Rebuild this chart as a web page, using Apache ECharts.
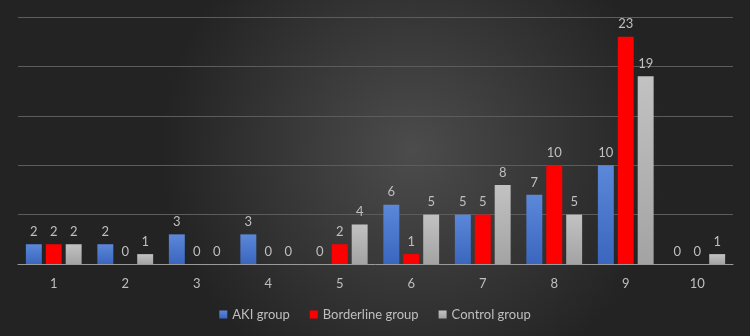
<!DOCTYPE html>
<html>
<head>
<meta charset="utf-8">
<script src="https://cdn.jsdelivr.net/npm/echarts@6/dist/echarts.min.js"></script>
<style>html,body{margin:0;padding:0;background:#2a2a2a;}#c{width:750px;height:336px;}</style>
</head>
<body>
<div id="c"></div>
<script>
var categories = ['1','2','3','4','5','6','7','8','9','10'];
var akiGroup = [2,2,3,3,0,6,5,7,10,0];
var borderlineGroup = [2,0,0,0,2,1,5,10,23,0];
var controlGroup = [2,1,0,0,4,5,8,5,19,1];
var seriesNames = ['AKI group','Borderline group','Control group'];

var chart = echarts.init(document.getElementById('c'));
var font = 'Lato, "Open Sans", sans-serif';
var labelCfg = {show:true, position:'top', distance:6, color:'#bfbfbf', fontSize:13, fontFamily:font};
function grad(a,b){return new echarts.graphic.LinearGradient(0,0,0,1,[{offset:0,color:a},{offset:1,color:b}]);}
chart.setOption({
  backgroundColor: new echarts.graphic.RadialGradient(0.55,0.45,0.75,[{offset:0,color:'#4c4c4c'},{offset:1,color:'#232323'}]),
  animation:false,
  grid:{left:18,right:17,top:17,bottom:72},
  legend:{
    bottom:10, left:'center', icon:'rect', itemWidth:8, itemHeight:8, itemGap:20,
    textStyle:{color:'#bfbfbf', fontSize:13, fontFamily:font},
    data:seriesNames
  },
  xAxis:{
    type:'category', data:categories,
    axisLine:{lineStyle:{color:'#9a9a9a', width:1}},
    axisTick:{show:false},
    axisLabel:{color:'#bfbfbf', fontSize:13, fontFamily:font, margin:13}
  },
  yAxis:{
    type:'value', min:0, max:25, interval:5,
    axisLabel:{show:false}, axisLine:{show:false}, axisTick:{show:false},
    splitLine:{lineStyle:{color:'#5c5c5c', width:1}}
  },
  series:[
    {name:seriesNames[0], type:'bar', data:akiGroup, barGap:'25%', barCategoryGap:'22%',
     itemStyle:{color:grad('#5b88d8','#3a66bf')}, label:labelCfg},
    {name:seriesNames[1], type:'bar', data:borderlineGroup,
     itemStyle:{color:'#ff0000'}, label:labelCfg},
    {name:seriesNames[2], type:'bar', data:controlGroup,
     itemStyle:{color:grad('#c2c2c2','#a3a3a3')}, label:labelCfg}
  ]
});
</script>
</body>
</html>
